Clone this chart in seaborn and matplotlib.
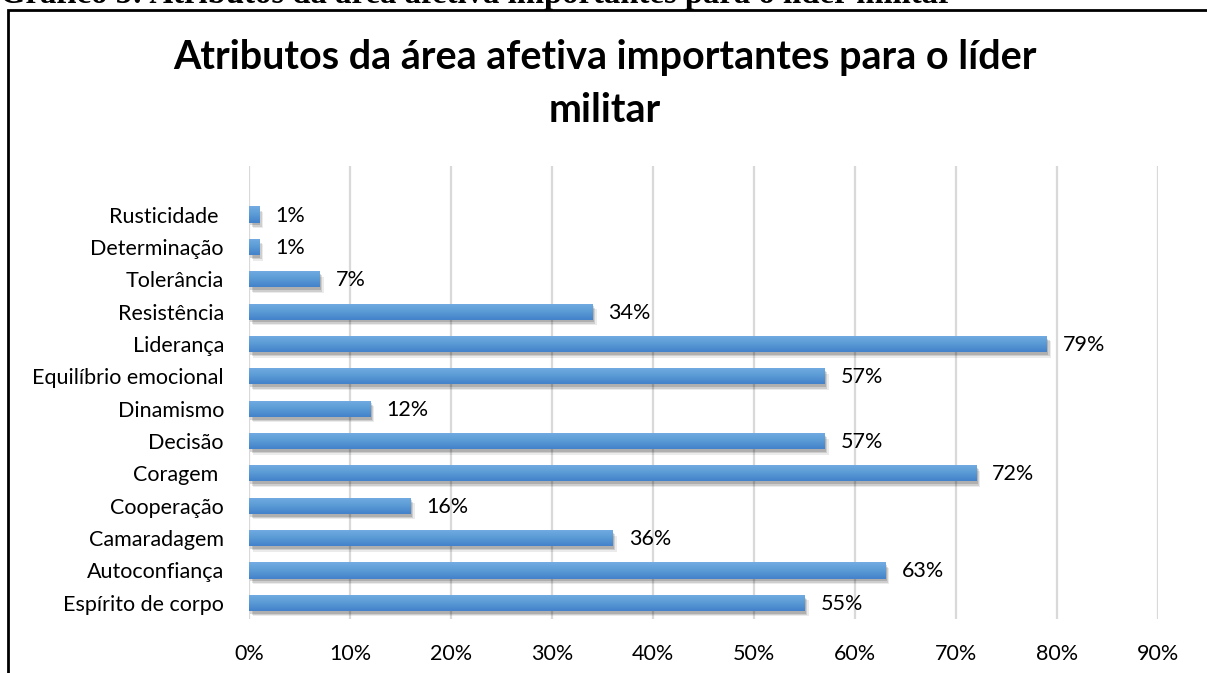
import numpy as np
import matplotlib
matplotlib.use("Agg")
import matplotlib.pyplot as plt
import matplotlib.patheffects as pe
from matplotlib.patches import Rectangle
from matplotlib.colors import LinearSegmentedColormap
import seaborn as sns
import pandas as pd

# ---------------- data ----------------
categories = ["Rusticidade ", "Determinação", "Tolerância", "Resistência", "Liderança",
              "Equilíbrio emocional", "Dinamismo", "Decisão", "Coragem ", "Cooperação",
              "Camaradagem", "Autoconfiança", "Espírito de corpo"]
values = [0.01, 0.01, 0.07, 0.34, 0.79, 0.57, 0.12, 0.57, 0.72, 0.16, 0.36, 0.63, 0.55]
x_ticks = [0.0, 0.1, 0.2, 0.3, 0.4, 0.5, 0.6, 0.7, 0.8, 0.9]
x_tick_labels = ["0%", "10%", "20%", "30%", "40%", "50%", "60%", "70%", "80%", "90%"]
title_line1 = "Atributos da área afetiva importantes para o líder"
title_line2 = "militar"
header = "Gráfico 5: Atributos da área afetiva importantes para o líder militar"

# ---------------- style ----------------
sns.set_style("white")
plt.rcParams['font.family'] = ['Lato', 'DejaVu Sans']
plt.rcParams['text.color'] = 'black'
plt.rcParams['xtick.color'] = 'black'
plt.rcParams['ytick.color'] = 'black'

W, H = 1207, 673
fig = plt.figure(figsize=(W / 100, H / 100), dpi=100)
renderer = fig.canvas.get_renderer()


def fit_size(text, target_px, **kw):
    t = fig.text(0, 0, text, fontsize=20, **kw)
    w = t.get_window_extent(renderer=renderer).width
    t.remove()
    return 20 * target_px / w


label_fs = fit_size("Equilíbrio emocional", 192)
title_fs = fit_size(title_line1, 865, fontweight='bold')
header_fs = fit_size(header, 955, fontweight='bold', family='Liberation Serif')

ax = fig.add_axes([249 / W, 1 - 619 / H, (1158 - 249) / W, (619 - 166) / H])

df = pd.DataFrame({"cat": categories, "val": values})
sns.barplot(data=df, x="val", y="cat", orient="h", width=0.5, color="#5B9BD5",
            saturation=1, ax=ax)

cmap = LinearSegmentedColormap.from_list("bargrad", ["#73ACE3", "#5B9BD5", "#4381CA"])
grad = np.linspace(0, 1, 64).reshape(-1, 1)
for p in ax.patches:
    x0, y0, w, h = p.get_x(), p.get_y(), p.get_width(), p.get_height()
    p.set_edgecolor("none")
    p.set_path_effects([
        pe.SimplePatchShadow(offset=(3, -4), shadow_rgbFace="#000000", alpha=0.08),
        pe.SimplePatchShadow(offset=(2, -3), shadow_rgbFace="#000000", alpha=0.12),
        pe.SimplePatchShadow(offset=(1, -2), shadow_rgbFace="#000000", alpha=0.15),
        pe.Normal()])
    im = ax.imshow(grad, extent=(x0, x0 + w, y0 + h, y0), origin="upper", cmap=cmap,
                   aspect="auto", interpolation="bicubic", zorder=p.get_zorder() + 0.1)
    im.set_clip_path(p)

for i, v in enumerate(values):
    ax.text(v + 0.016, i + 0.03, f"{int(round(v * 100))}%", va="center", ha="left",
            fontsize=label_fs, color="#000000")

ax.set_xlim(0, 0.9)
ax.set_ylim(12.5, -1.5)
ax.set_xticks(x_ticks)
ax.set_xticklabels(x_tick_labels, fontsize=label_fs)
ax.set_yticks(range(len(categories)))
ax.set_yticklabels(categories, fontsize=label_fs)
ax.tick_params(axis="y", length=0, pad=18)
ax.tick_params(axis="x", length=0, pad=18)
ax.set_xlabel("")
ax.set_ylabel("")
ax.grid(axis="x", color="#d9d9d9", lw=1.6)
ax.grid(axis="y", visible=False)
ax.set_axisbelow(True)
for s in ax.spines.values():
    s.set_visible(False)

# outer frame (right/bottom edges run off the picture)
fig.add_artist(Rectangle((8 / W, -0.2), 1.5, 1.2 - 10 / H, transform=fig.transFigure,
                         fill=False, lw=2, ec="black"))

fig.text(605 / W, 1 - 69 / H, title_line1, ha="center", va="baseline",
         fontsize=title_fs, fontweight="bold", color="black")
fig.text(605 / W, 1 - 122 / H, title_line2, ha="center", va="baseline",
         fontsize=title_fs, fontweight="bold", color="black")
fig.text(0 / W, 1 - 3.5 / H, header, ha="left", va="baseline", fontsize=header_fs,
         fontweight="bold", family="Liberation Serif", color="black")

fig.savefig("out.png", dpi=100, facecolor="white")
